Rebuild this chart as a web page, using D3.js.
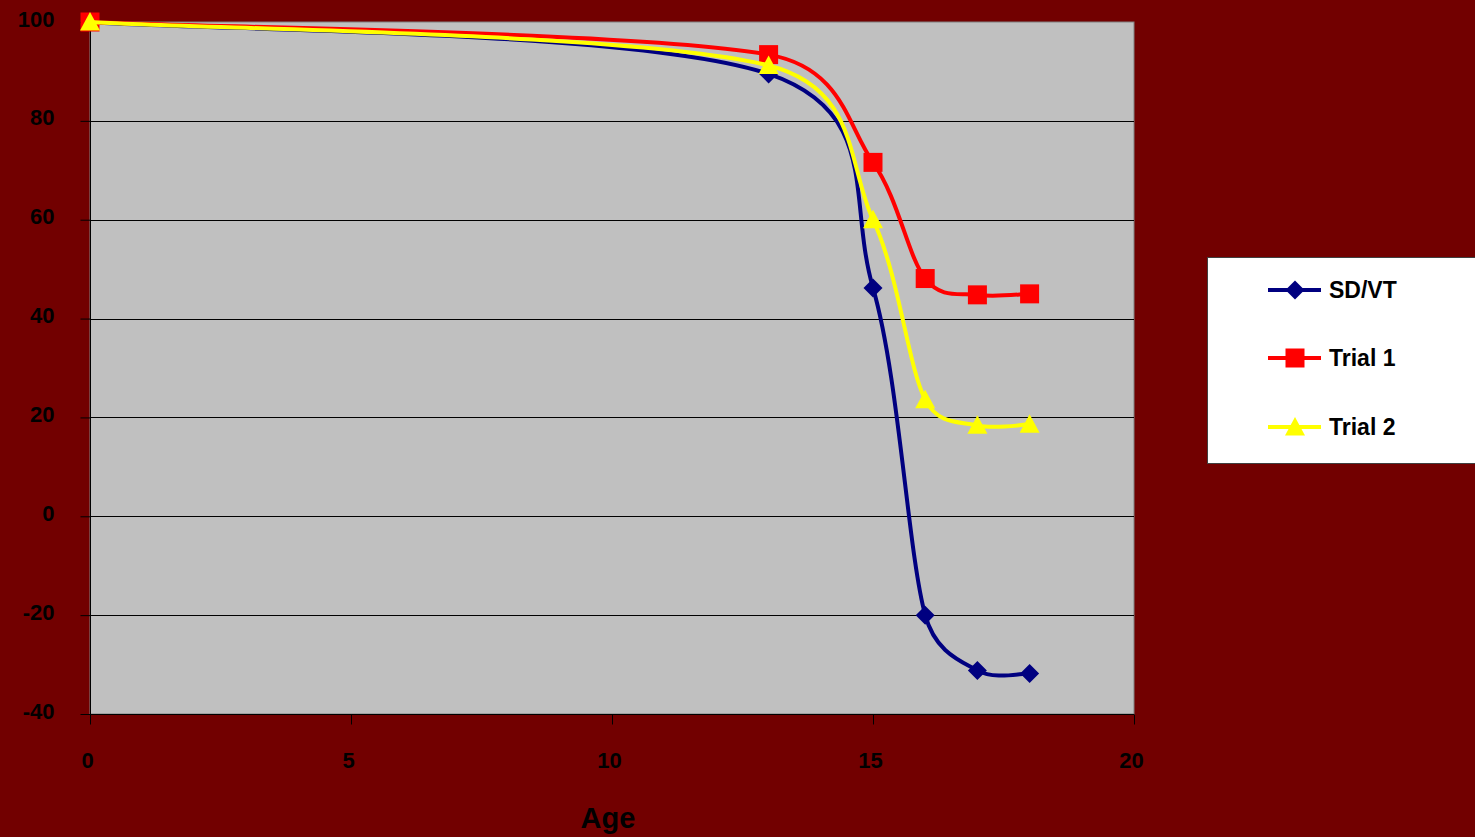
<!DOCTYPE html>
<html><head><meta charset="utf-8">
<script src="https://cdn.jsdelivr.net/npm/d3@7"></script>
<style>html,body{margin:0;padding:0;background:#720000;overflow:hidden}</style>
</head><body>
<svg id="c" width="1475" height="837"></svg>
<script>
const ages = [0, 13, 15, 16, 17, 18];
const sdvt = [100, 89.5, 46.2, -20, -31.2, -31.8];
const trial1 = [100, 93.4, 71.6, 48.1, 44.8, 45.0];
const trial2 = [100, 91.2, 60.0, 23.6, 18.4, 18.6];
const seriesNames = ["SD/VT", "Trial 1", "Trial 2"];
const seriesColors = ["#000080", "#FF0000", "#FFFF00"];
const xTicks = [0, 5, 10, 15, 20];
const yTicks = [-40, -20, 0, 20, 40, 60, 80, 100];

const svg = d3.select("#c");
const W = 1475, H = 837;
svg.append("rect").attr("width", W).attr("height", H).attr("fill", "#720000");

const L = 90, R = 1134, T = 22, B = 714;
const x = d3.scaleLinear().domain([0, 20]).range([L, R]);
const y = d3.scaleLinear().domain([-40, 100]).range([B, T]);

svg.append("rect").attr("x", L).attr("y", T).attr("width", R - L).attr("height", B - T)
  .attr("fill", "#C0C0C0").attr("stroke", "#808080").attr("stroke-width", 1);

svg.append("g").selectAll("line").data(yTicks.filter(v => v > -40 && v < 100)).join("line")
  .attr("x1", L).attr("x2", R).attr("y1", d => Math.round(y(d)) + 0.5).attr("y2", d => Math.round(y(d)) + 0.5)
  .attr("stroke", "#000").attr("stroke-width", 1);

const font = "'Liberation Sans', Arial, sans-serif";

const yAxis = d3.axisLeft(y).tickValues(yTicks).tickSize(10).tickPadding(26).tickFormat(d => String(d));
const gy = svg.append("g").attr("transform", `translate(${L + 0.5},0)`).call(yAxis);
gy.select(".domain").attr("stroke", "#000").attr("d", `M0,${T}V${B}`);
gy.selectAll(".tick line").attr("stroke", "#000");
gy.selectAll(".tick text").attr("fill", "#000").style("font", `bold 22px ${font}`).attr("dy", "0.32em").attr("y", -3);

const xAxis = d3.axisBottom(x).tickValues(xTicks).tickSize(10).tickPadding(0).tickFormat(d => String(d));
const gx = svg.append("g").attr("transform", `translate(0,${B + 0.5})`).call(xAxis);
gx.select(".domain").attr("stroke", "#000").attr("d", `M${L},0H${R}`);
gx.selectAll(".tick line").attr("stroke", "#000");
gx.selectAll(".tick text").attr("fill", "#000").style("font", `bold 22px ${font}`)
  .attr("dy", null).attr("y", 53).attr("dx", -3);

svg.append("text").attr("x", 608).attr("y", 828).attr("text-anchor", "middle")
  .style("font", `bold 29px ${font}`).attr("fill", "#000").text("Age");

const allSeries = [sdvt, trial1, trial2];

// Excel-style smoothed line: Bezier with 1/6 tangents, capped at half segment length
function smoothPath(vals) {
  const P = vals.map((v, i) => [x(ages[i]), y(v)]);
  const p = d3.path();
  const dist = (a, b) => Math.hypot(b[0] - a[0], b[1] - a[1]);
  p.moveTo(P[0][0], P[0][1]);
  for (let i = 0; i < P.length - 1; i++) {
    const p0 = P[Math.max(0, i - 1)], p1 = P[i], p2 = P[i + 1], p3 = P[Math.min(P.length - 1, i + 2)];
    const seg = dist(p1, p2);
    const d02 = dist(p0, p2), d13 = dist(p1, p3);
    let f1 = 1 / 6, f2 = 1 / 6;
    if (d02 * f1 > seg / 2) f1 = (seg / 2) / d02;
    if (d13 * f2 > seg / 2) f2 = (seg / 2) / d13;
    const c1 = [p1[0] + f1 * (p2[0] - p0[0]), p1[1] + f1 * (p2[1] - p0[1])];
    const c2 = [p2[0] - f2 * (p3[0] - p1[0]), p2[1] - f2 * (p3[1] - p1[1])];
    p.bezierCurveTo(c1[0], c1[1], c2[0], c2[1], p2[0], p2[1]);
  }
  return p.toString();
}

function marker(g, k, cx, cy) {
  const c = seriesColors[k];
  if (k === 0) {
    g.append("path").attr("d", `M${cx},${cy - 9.5}L${cx + 9.5},${cy}L${cx},${cy + 9.5}L${cx - 9.5},${cy}Z`).attr("fill", c);
  } else if (k === 1) {
    g.append("rect").attr("x", cx - 9.5).attr("y", cy - 9.5).attr("width", 19).attr("height", 19).attr("fill", c);
  } else {
    g.append("path").attr("d", `M${cx},${cy - 10}L${cx + 10},${cy + 8.5}L${cx - 10},${cy + 8.5}Z`).attr("fill", c);
  }
}

allSeries.forEach((vals, k) => {
  const g = svg.append("g");
  g.append("path").attr("d", smoothPath(vals)).attr("fill", "none")
    .attr("stroke", seriesColors[k]).attr("stroke-width", 4).attr("stroke-linejoin", "round");
  vals.forEach((v, i) => marker(g, k, x(ages[i]), y(v)));
});

svg.append("rect").attr("x", 1207.5).attr("y", 257.5).attr("width", 280).attr("height", 206)
  .attr("fill", "#fff").attr("stroke", "#404040").attr("stroke-width", 1);
const legY = [290, 358, 427];
seriesNames.forEach((n, k) => {
  const g = svg.append("g");
  g.append("line").attr("x1", 1268).attr("x2", 1321).attr("y1", legY[k]).attr("y2", legY[k])
    .attr("stroke", seriesColors[k]).attr("stroke-width", 4);
  marker(g, k, 1295, legY[k]);
  g.append("text").attr("x", 1329).attr("y", legY[k] + 8).style("font", `bold 23px ${font}`)
    .attr("fill", "#000").text(n);
});
</script>
</body></html>
